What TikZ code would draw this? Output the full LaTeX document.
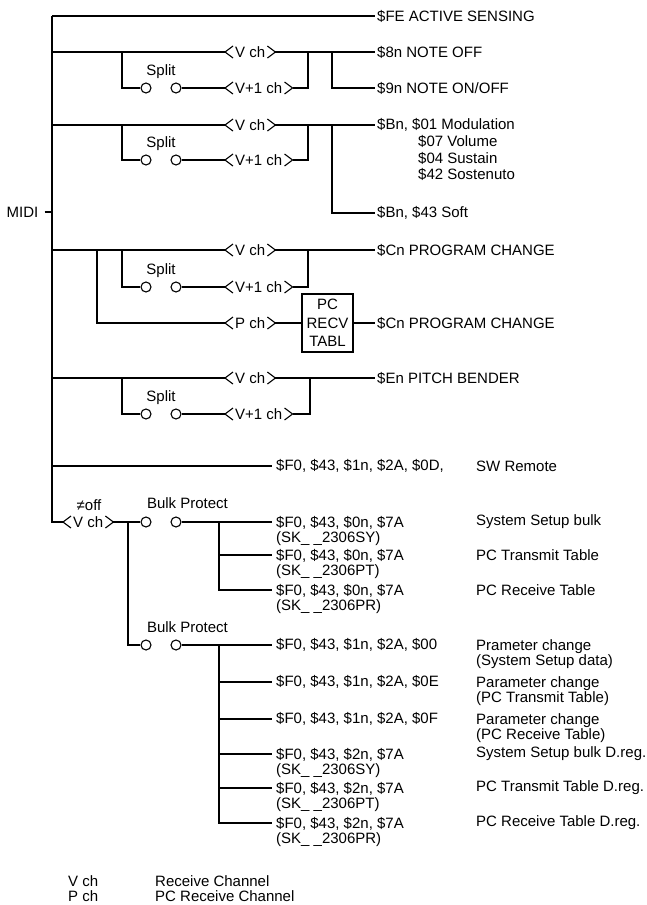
\documentclass[tikz,border=0pt]{standalone}
\usepackage{fontspec}
\setmainfont{Liberation Sans}
\newcommand\fnt{\fontsize{15}{16}\selectfont}
\tikzset{
 ln/.style={line width=1.1pt},
 txt/.style={anchor=west, inner xsep=2pt, inner ysep=1pt, font=\fnt},
 btxt/.style={anchor=west, inner xsep=4pt, inner ysep=1pt, font=\fnt},
 plain/.style={anchor=west, inner sep=0pt, font=\fnt},
 two/.style={anchor=north west, inner sep=0pt, align=left, font={\fontsize{15}{#1}\selectfont\lineskiplimit=-20pt}},
 two/.default=15,
 lbl/.style={inner sep=0pt, font=\fnt},
 chan/.style={anchor=west, inner xsep=10pt, inner ysep=1pt, font=\fnt},
 sw/.style={circle, draw, line width=1.1pt, minimum size=10pt, inner sep=0pt},
 tbl/.style={draw, line width=1.1pt, minimum width=51pt, minimum height=58pt, align=center, inner sep=0pt, font=\fontsize{15}{18.5}\selectfont}
}
\newcommand\chv[1]{%
 \draw[ln] ([shift={(8,-6)}]#1.west) -- (#1.west) -- ([shift={(8,6)}]#1.west);
 \draw[ln] ([shift={(-8,-6)}]#1.east) -- (#1.east) -- ([shift={(-8,6)}]#1.east);}
\newcommand\splitgrp[4]{%
 \coordinate (#1s) at (122,#2);
 \node[sw] (#1a) at (146,#3) {};
 \node[sw] (#1b) at (176,#3) {};
 \node[lbl] (#1l) at (161,{#3-16}) {Split};
 \node[chan] (#1w) at (225,#3) {V+1 ch}; \chv{#1w}
 \coordinate (#1r) at (#4,#2);
 \draw[ln] (#1s) |- (#1a.west);
 \draw[ln] (#1b.east) -- (#1w.west);
 \draw[ln] (#1w.east) -| (#1r);}
\newcommand\lend[1]{([xshift=-4pt,yshift=-6pt]#1.north west)}
\begin{document}
\begin{tikzpicture}[x=1pt,y=-1pt]
\useasboundingbox (0,0) rectangle (647,905);
% bus
\coordinate (top) at (52,16);
\coordinate (bot) at (52,522);
\node[lbl, inner xsep=6pt] (midi) at (22.5,212) {MIDI};
\coordinate (bm) at (52,212);
\draw[ln] (midi.east) -- (bm);
% row 1
\node[txt] (t1) at (375,16) {\$FE ACTIVE SENSING};
\draw[ln] (top) -- (t1.west);
% row 2
\coordinate (b2) at (52,52);
\node[chan] (v2) at (225,52) {V ch}; \chv{v2}
\node[txt] (t2) at (375,52) {\$8n NOTE OFF};
\node[txt] (t3) at (375,88) {\$9n NOTE ON/OFF};
\coordinate (j2) at (332,52);
\draw[ln] (b2) -- (v2.west);
\draw[ln] (v2.east) -- (t2.west);
\draw[ln] (j2) |- (t3.west);
\splitgrp{g2}{52}{88}{308}
% row 3
\coordinate (b3) at (52,125);
\node[chan] (v3) at (225,125) {V ch}; \chv{v3}
\node[txt] (t4) at (375,125) {\$Bn, \$01 Modulation};
\node[plain] (t4a) at (418,141.5) {\$07 Volume};
\node[plain] (t4b) at (418,158) {\$04 Sustain};
\node[plain] (t4c) at (418,174.5) {\$42 Sostenuto};
\node[txt] (t5) at (375,213) {\$Bn, \$43 Soft};
\coordinate (j3) at (332,125);
\draw[ln] (b3) -- (v3.west);
\draw[ln] (v3.east) -- (t4.west);
\draw[ln] (j3) |- (t5.west);
\splitgrp{g3}{125}{160}{308}
% row 4
\coordinate (b4) at (52,250);
\node[chan] (v4) at (225,250) {V ch}; \chv{v4}
\node[txt] (t6) at (375,250) {\$Cn PROGRAM CHANGE};
\draw[ln] (b4) -- (v4.west);
\draw[ln] (v4.east) -- (t6.west);
\splitgrp{g4}{250}{287}{308}
\coordinate (pj) at (97,250);
\node[chan] (p4) at (225,323) {P ch}; \chv{p4}
\node[tbl] (box) at (327.5,323) {PC\\RECV\\TABL};
\node[txt] (t7) at (375,323) {\$Cn PROGRAM CHANGE};
\draw[ln] (pj) |- (p4.west);
\draw[ln] (p4.east) -- (box.west);
\draw[ln] (box.east) -- (t7.west);
% row 5
\coordinate (b5) at (52,378);
\node[chan] (v5) at (225,378) {V ch}; \chv{v5}
\node[txt] (t8) at (375,378) {\$En PITCH BENDER};
\draw[ln] (b5) -- (v5.west);
\draw[ln] (v5.east) -- (t8.west);
\splitgrp{g5}{378}{414}{310}
% row 6
\coordinate (b6) at (52,466);
\node[btxt] (t9) at (272,466) {\$F0, \$43, \$1n, \$2A, \$0D,};
\node[plain] (t9r) at (476,466) {SW Remote};
\draw[ln] (b6) -- (t9.west);
% row 7
\node[chan] (vb) at (63,522) {V ch}; \chv{vb}
\node[lbl] (noff) at (89,505) {≠off};
\draw[ln] (top) -- (bot) -- (vb.west);
\coordinate (jb) at (128,522);
\node[sw] (c1) at (146,522) {};
\node[sw] (c2) at (176,522) {};
\node[lbl] (bp1) at (187.5,503) {Bulk Protect};
\draw[ln] (vb.east) -- (c1.west);
\node[two] (k1) at (276,516) {\$F0, \$43, \$0n, \$7A\\(SK\_ \_2306SY)};
\node[two] (k2) at (276,549) {\$F0, \$43, \$0n, \$7A\\(SK\_ \_2306PT)};
\node[two] (k3) at (276,584) {\$F0, \$43, \$0n, \$7A\\(SK\_ \_2306PR)};
\coordinate (q1) at (219,522);
\draw[ln] (c2.east) -- \lend{k1};
\draw[ln] (q1) |- \lend{k2};
\draw[ln] (q1) |- \lend{k3};
\node[plain] (r1) at (476,522) {System Setup bulk};
\node[plain] (r2) at (476,555) {PC Transmit Table};
\node[plain] (r3) at (476,590) {PC Receive Table};
% group 2
\node[sw] (c3) at (146,645) {};
\node[sw] (c4) at (176,645) {};
\node[lbl] (bp2) at (187.5,627) {Bulk Protect};
\draw[ln] (jb) |- (c3.west);
\node[btxt] (m1) at (272,645) {\$F0, \$43, \$1n, \$2A, \$00};
\node[btxt] (m2) at (272,682) {\$F0, \$43, \$1n, \$2A, \$0E};
\node[btxt] (m3) at (272,719) {\$F0, \$43, \$1n, \$2A, \$0F};
\node[two=15.5] (m4) at (276,748) {\$F0, \$43, \$2n, \$7A\\(SK\_ \_2306SY)};
\node[two=15.5] (m5) at (276,782) {\$F0, \$43, \$2n, \$7A\\(SK\_ \_2306PT)};
\node[two=15.5] (m6) at (276,817) {\$F0, \$43, \$2n, \$7A\\(SK\_ \_2306PR)};
\coordinate (q2) at (219,645);
\draw[ln] (c4.east) -- (m1.west);
\foreach \k in {m2,m3} {\draw[ln] (q2) |- (\k.west);}
\foreach \k in {m4,m5,m6} {\draw[ln] (q2) |- \lend{\k};}
\node[two] (n1) at (476,639) {Prameter change\\(System Setup data)};
\node[two] (n2) at (476,676) {Parameter change\\(PC Transmit Table)};
\node[two] (n3) at (476,713) {Parameter change\\(PC Receive Table)};
\node[plain] (n4) at (476,754) {System Setup bulk D.reg.};
\node[plain] (n5) at (476,788) {PC Transmit Table D.reg.};
\node[plain] (n6) at (476,823) {PC Receive Table D.reg.};
% legend
\node[two] (l1) at (68,875) {V ch\\P ch};
\node[two] (l1t) at (155,875) {Receive Channel\\PC Receive Channel};
\end{tikzpicture}
\end{document}
